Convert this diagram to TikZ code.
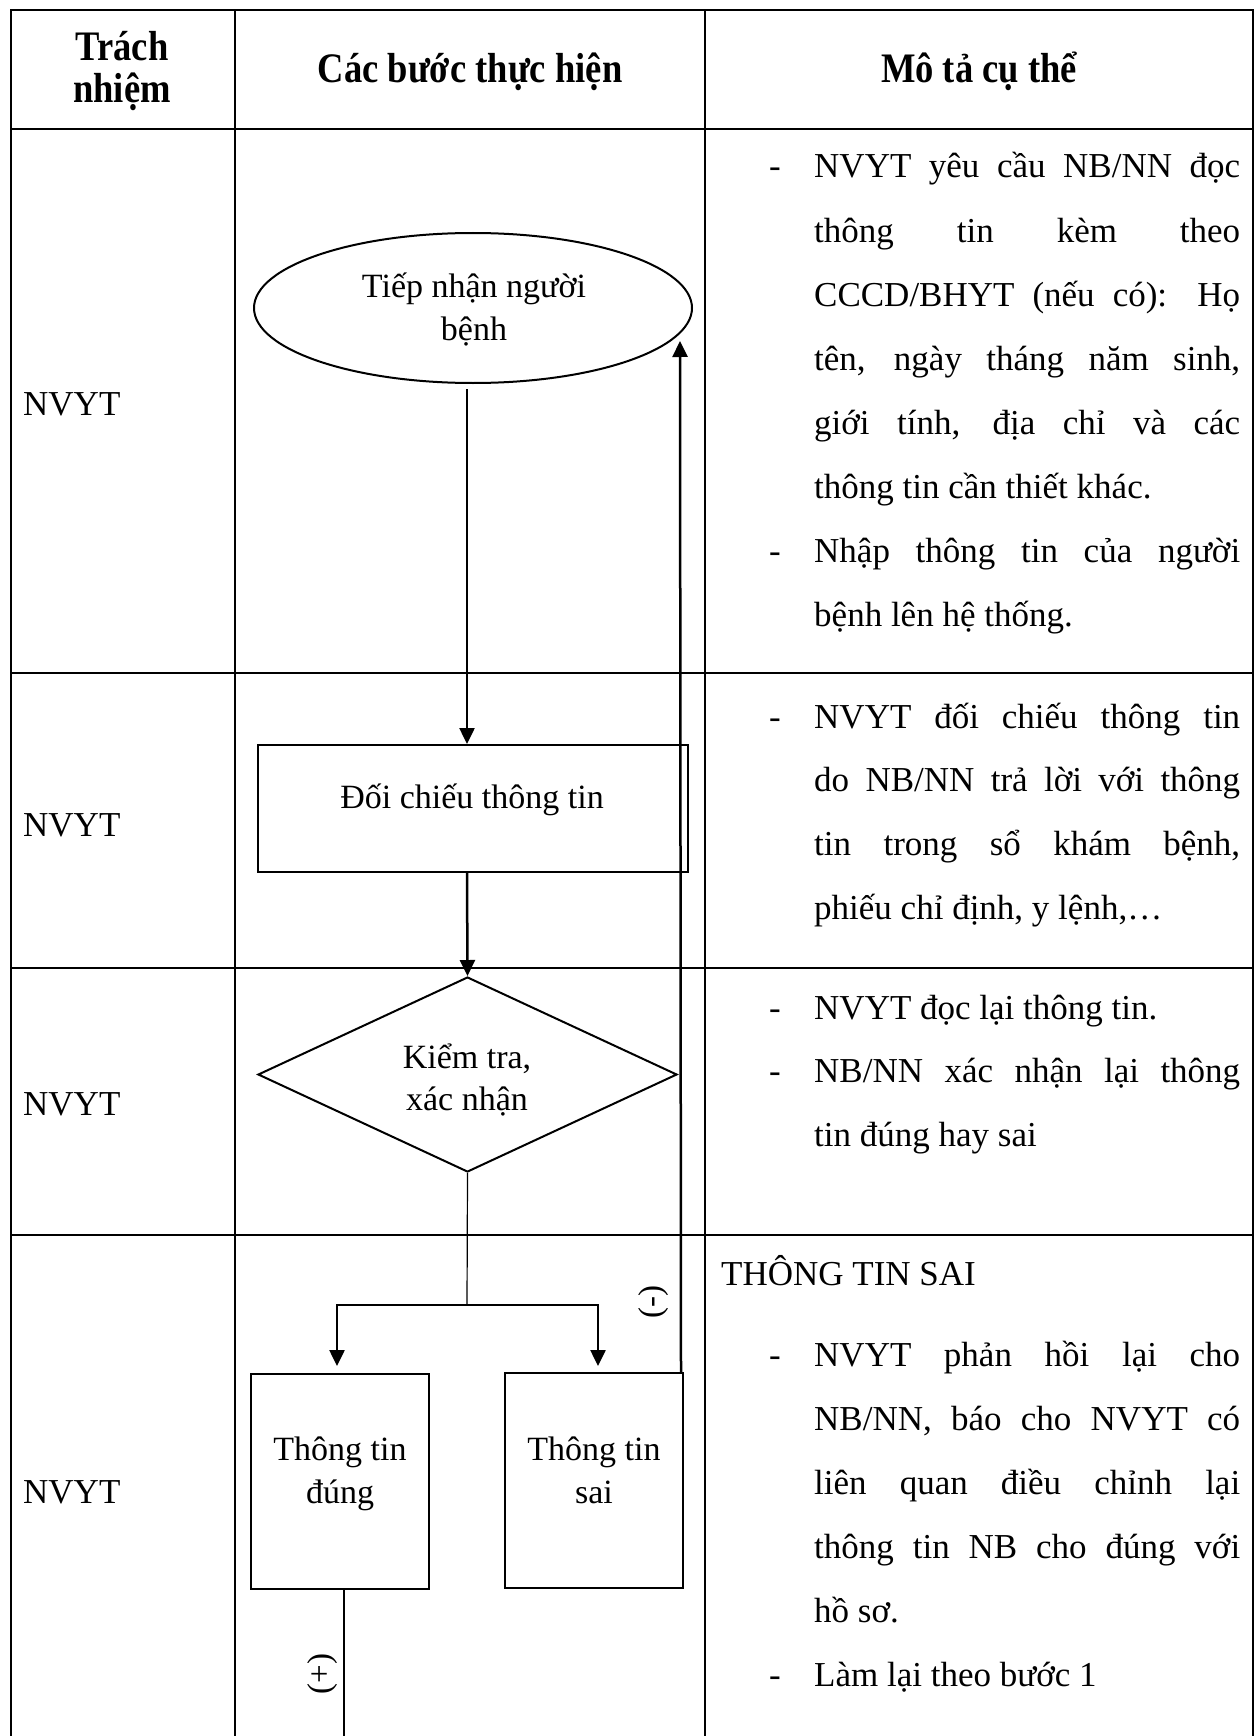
\documentclass[tikz,border=0pt]{standalone}
\usepackage{fontspec}
\setmainfont{Liberation Serif}
\newfontfamily\hfont[FakeStretch=0.87]{Liberation Serif}
\usetikzlibrary{shapes.geometric,arrows.meta}
\newcommand\J[1]{\makebox[426pt][s]{#1}}
\begin{document}
\begin{tikzpicture}[x=1pt,y=-1pt,
  tbl/.style={line width=2.8pt,line join=miter},
  flow/.style={draw,line width=2pt,inner sep=0pt},
  conn/.style={line width=2.5pt,-{Triangle[width=15pt,length=16pt]}},
  thinconn/.style={line width=1.2pt},
  body/.style={font=\fontsize{35}{64}\selectfont,inner sep=0pt},
  ftxt/.style={font=\fontsize{34}{43}\selectfont,inner sep=0pt},
  head/.style={font=\hfont\bfseries\fontsize{42}{41}\selectfont,inner sep=0pt},
  sign/.style={font=\fontsize{33}{33}\selectfont,inner sep=0pt,rotate=90},
]
\useasboundingbox (0,0) rectangle (1257,1736);
\fill[white] (0,0) rectangle (1257,1736);

% table grid
\draw[tbl] (11,1736) -- (11,10) -- (1253,10) -- (1253,1736);
\draw[tbl] (235,10) -- (235,1736);
\draw[tbl] (705,10) -- (705,1736);
\foreach \yy in {129,673,968,1235} \draw[tbl] (11,\yy) -- (1253,\yy);

% headers
\node[head,anchor=base] (h1a) at (122,61) {Trách};
\node[head,anchor=base] (h1b) at (122,103) {nhiệm};
\node[head,anchor=base] (h2) at (470,83) {Các bước thực hiện};
\node[head,anchor=base] (h3) at (979,83) {Mô tả cụ thể};

% responsibility column
\node[body,anchor=base west] (r1) at (23,415) {NVYT};
\node[body,anchor=base west] (r2) at (23,836) {NVYT};
\node[body,anchor=base west] (r3) at (23,1115) {NVYT};
\node[body,anchor=base west] (r4) at (23,1503) {NVYT};

% flow shapes
\node[flow,ellipse,minimum width=438pt,minimum height=150pt] (start) at (473,308) {};
\node[ftxt,anchor=base] (startT1) at (474,297) {Tiếp nhận người};
\node[ftxt,anchor=base] (startT2) at (474,340) {bệnh};

\node[flow,rectangle,minimum width=430pt,minimum height=127pt] (cmp) at (473,808.5) {};
\node[ftxt,anchor=base] (cmpT) at (472,808) {Đối chiếu thông tin};

\node[flow,diamond,minimum width=419pt,minimum height=195pt] (chk) at (467.5,1074.5) {};
\node[ftxt,anchor=base] (chkT1) at (467,1068) {Kiểm tra,};
\node[ftxt,anchor=base] (chkT2) at (467,1110) {xác nhận};

\node[flow,rectangle,minimum width=178pt,minimum height=215pt] (ok) at (340,1481.5) {};
\node[ftxt,anchor=base] (okT1) at (340,1460) {Thông tin};
\node[ftxt,anchor=base] (okT2) at (340,1503) {đúng};

\node[flow,rectangle,minimum width=178pt,minimum height=215pt] (bad) at (594,1480.5) {};
\node[ftxt,anchor=base] (badT1) at (594,1460) {Thông tin};
\node[ftxt,anchor=base] (badT2) at (594,1503) {sai};

% connectors
\draw[conn] ([xshift=-6pt,yshift=-5pt]start.south) -- ([xshift=-6pt]cmp.north);
\draw[conn] ([xshift=-6pt]cmp.south) -- (chk.north);
\coordinate (split) at (467,1305);
\draw[thinconn] (chk.south) -- (split);
\draw[conn] (split) -| ([xshift=-3pt,yshift=7pt]ok.north);
\draw[conn] (split) -| ([xshift=4pt,yshift=6pt]bad.north);
\coordinate (back) at (680,341);
\draw[conn] ([xshift=-3pt]bad.north east) -- (back);
\coordinate (endpt) at (344,1736);
\draw[line width=2.5pt] ([xshift=4pt]ok.south) -- (endpt);

\node[sign] (minus) at (654,1302) {(-)};
\node[sign] (plus) at (323,1674) {(+)};

% description column
\node[body,anchor=base west] (b1a) at (769,178) {-};
\node[body,anchor=base west] (b1b) at (769,562) {-};
\foreach \t [count=\i from 0] in {
  {\J{NVYT yêu cầu NB/NN đọc}},
  {\J{thông tin kèm theo}},
  {\J{CCCD/BHYT (nếu có): Họ}},
  {\J{tên, ngày tháng năm sinh,}},
  {\J{giới tính, địa chỉ và các}},
  {thông tin cần thiết khác.},
  {\J{Nhập thông tin của người}},
  {bệnh lên hệ thống.}}
  \node[body,anchor=base west] (d1-\i) at (814,178+64.1*\i) {\t};

\node[body,anchor=base west] (b2a) at (769,728) {-};
\foreach \t [count=\i from 0] in {
  {\J{NVYT đối chiếu thông tin}},
  {\J{do NB/NN trả lời với thông}},
  {\J{tin trong sổ khám bệnh,}},
  {phiếu chỉ định, y lệnh,…}}
  \node[body,anchor=base west] (d2-\i) at (814,728+63.7*\i) {\t};

\node[body,anchor=base west] (b3a) at (769,1019) {-};
\node[body,anchor=base west] (b3b) at (769,1082.5) {-};
\foreach \t [count=\i from 0] in {
  {NVYT đọc lại thông tin.},
  {\J{NB/NN xác nhận lại thông}},
  {tin đúng hay sai}}
  \node[body,anchor=base west] (d3-\i) at (814,1019+63.5*\i) {\t};

\node[body,anchor=base west] (d4h) at (721,1285) {THÔNG TIN SAI};
\node[body,anchor=base west] (b4a) at (769,1366) {-};
\node[body,anchor=base west] (b4b) at (769,1686) {-};
\foreach \t [count=\i from 0] in {
  {\J{NVYT phản hồi lại cho}},
  {\J{NB/NN, báo cho NVYT có}},
  {\J{liên quan điều chỉnh lại}},
  {\J{thông tin NB cho đúng với}},
  {hồ sơ.},
  {Làm lại theo bước 1}}
  \node[body,anchor=base west] (d4-\i) at (814,1366+64*\i) {\t};
\end{tikzpicture}
\end{document}
